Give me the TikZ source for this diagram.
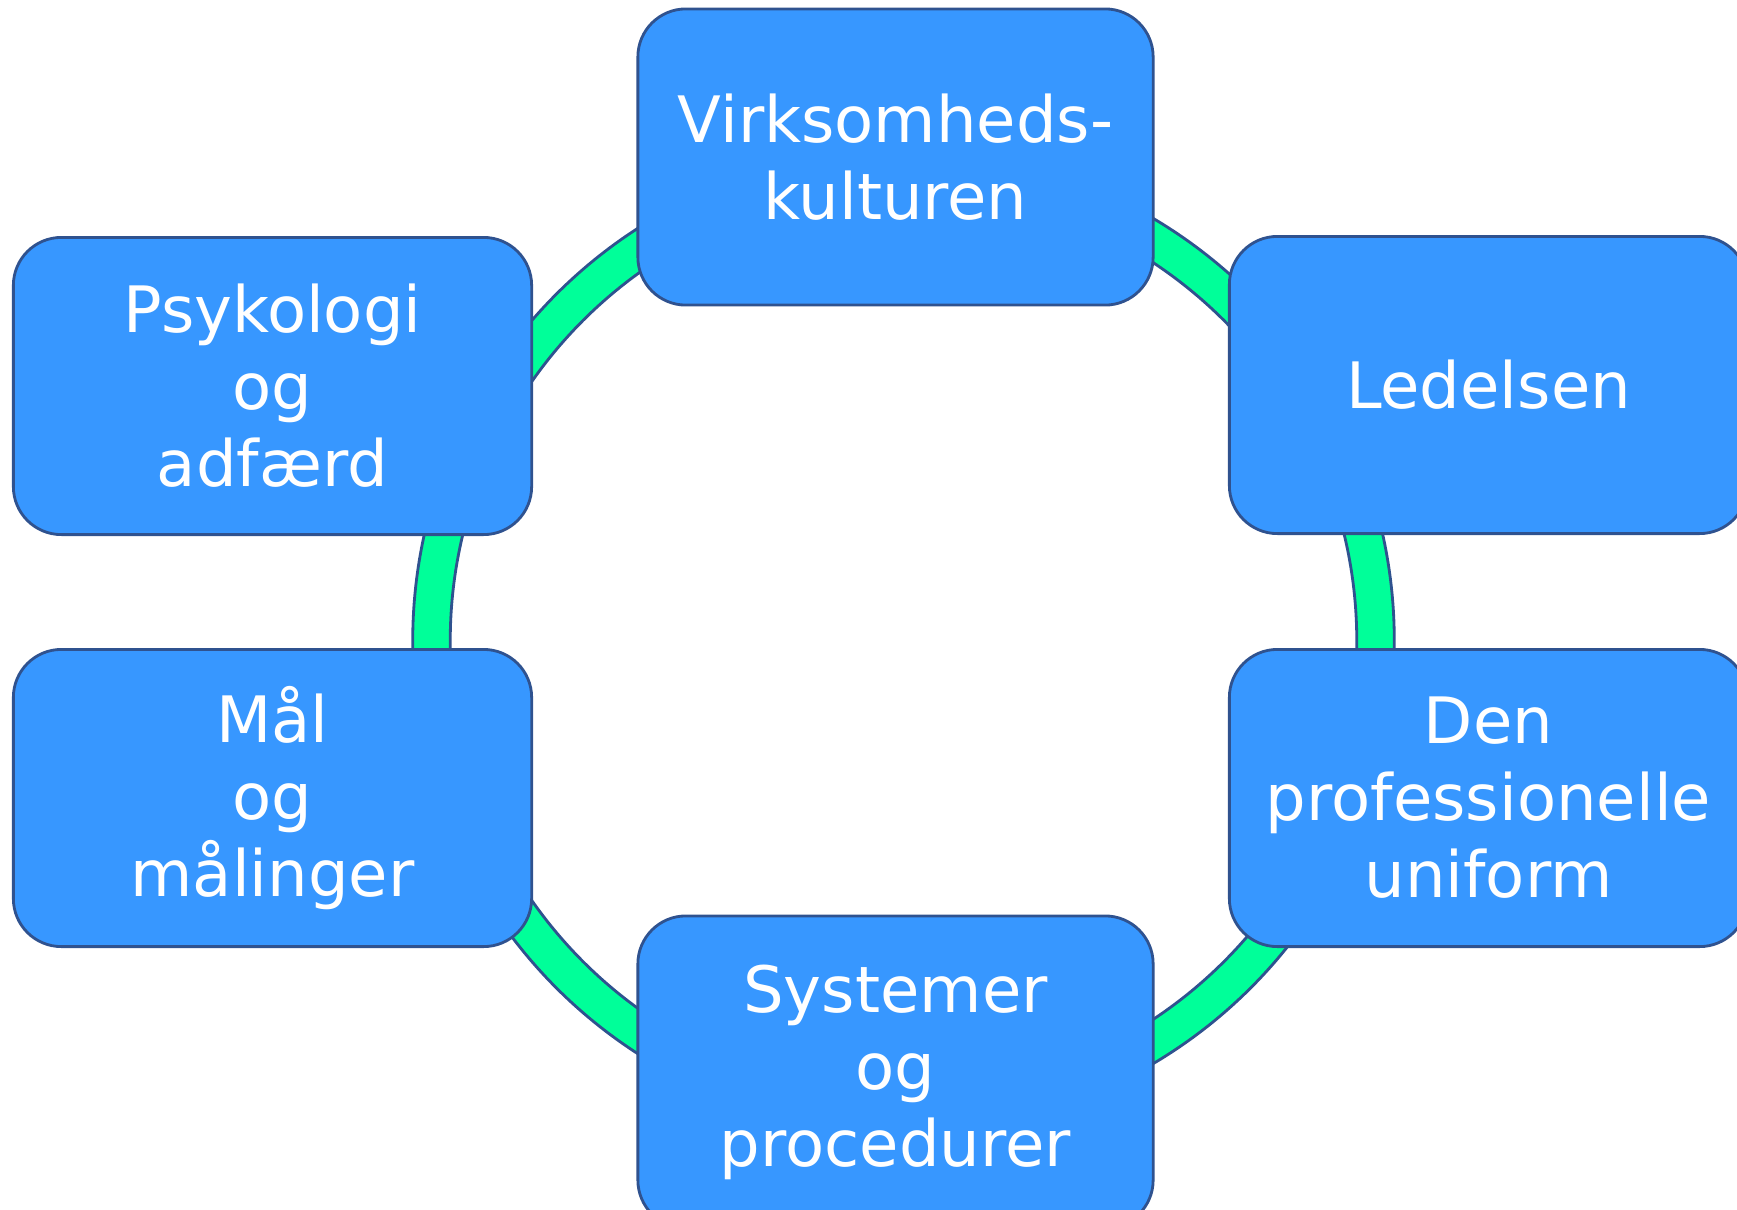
\documentclass[tikz,border=0pt]{standalone}
\usepackage{fontspec}
\setmainfont{DejaVu Sans}
\definecolor{ringgreen}{HTML}{00FF99}
\definecolor{boxblue}{HTML}{3797FF}
\definecolor{edgeblue}{HTML}{2F528F}
\begin{document}
\begin{tikzpicture}[x=0.01cm,y=-0.01cm,
  topic/.style={draw=edgeblue, line width=0.8pt, fill=boxblue, rectangle,
    rounded corners=0.48cm, align=center, text=white, inner sep=0pt,
    font=\fontsize{18.2pt}{21.9pt}\selectfont},
  wide/.style={topic, minimum width=5.15cm, minimum height=2.96cm},
  side/.style={topic, minimum width=5.18cm, minimum height=2.97cm}]
\useasboundingbox (0,0) rectangle (1737,1209);
\coordinate (c) at (903.5,641);
\fill[ringgreen, even odd rule] (c) circle[radius=4.905cm] (c) circle[radius=4.53cm];
\draw[edgeblue, line width=0.8pt] (c) circle[radius=4.905cm] (c) circle[radius=4.53cm];
\node[wide] (vk) at (895.5,157) {Virksomheds-\\kulturen};
\node[side] (psy) at (272.5,386) {Psykologi\\og\\adfærd};
\node[side] (led) at (1488.5,385) {Ledelsen};
\node[side] (maal) at (272.5,798) {Mål\\og\\målinger};
\node[side] (den) at (1488.5,798) {Den\\professionelle\\uniform};
\node[wide, minimum height=3.12cm] (sys) at (895.5,1072) {Systemer\\og\\procedurer};
\end{tikzpicture}
\end{document}
